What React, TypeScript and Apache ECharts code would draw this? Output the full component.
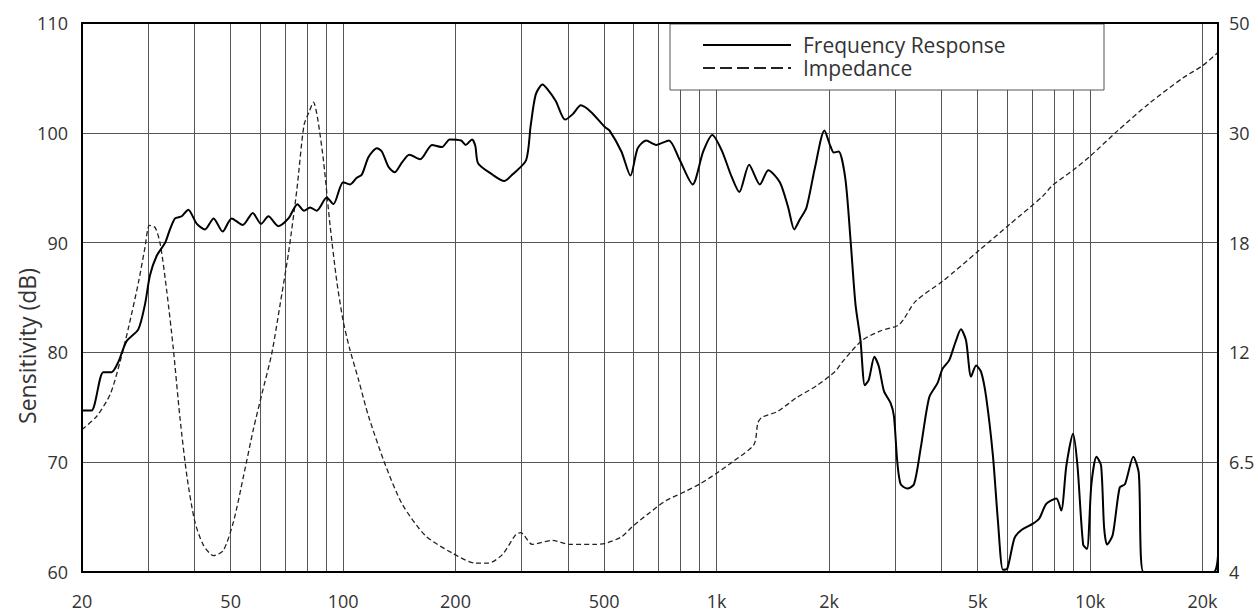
import React, { useEffect, useRef } from "react";
import * as echarts from "echarts";

// ---------- data ----------
const xLabelValues = [20, 50, 100, 200, 500, 1000, 2000, 5000, 10000, 20000];
const xGridValues = [
  20, 30, 40, 50, 60, 70, 80, 90, 100, 200, 300, 400, 500, 600, 700, 800, 900,
  1000, 2000, 3000, 4000, 5000, 6000, 7000, 8000, 9000, 10000, 20000,
];
const impedanceTicks = [4, 6.5, 12, 18, 30, 50];

const responseHz = [
  20, 21.2, 22.8, 24.0, 25.0, 26.3, 28.3, 29.5, 30.4, 31.7,
  33.4, 34.4, 35.5, 37.0, 38.5, 40.6, 42.7, 45.0, 47.6, 50.3,
  53.9, 57.3, 60.3, 63.1, 67.1, 71.4, 75.5, 78.6, 81.6, 85.0,
  90.4, 94.2, 100, 104.4, 108.8, 112.3, 117, 123.2, 127, 132.3,
  137.4, 143.8, 150.4, 161, 173, 184, 193, 207, 213, 221.5,
  226, 230, 251, 270, 284, 309, 318, 328, 342, 352,
  371, 393, 412, 433, 461, 503, 517, 556, 588, 615,
  648, 689, 745, 795, 863, 921, 974, 1032, 1097, 1150,
  1222, 1306, 1375, 1477, 1555, 1614, 1670, 1741, 1833, 1944,
  2016, 2059, 2123, 2212, 2283, 2354, 2428, 2494, 2555, 2646,
  2720, 2805, 2922, 2984, 3047, 3110, 3240, 3378, 3520, 3708,
  3903, 4025, 4197, 4357, 4511, 4653, 4800, 4953, 5109, 5270,
  5493, 5664, 5843, 6002, 6277, 6538, 7030, 7320, 7630, 8120,
  8370, 8640, 9000, 9250, 9580, 9810, 10080, 10400, 10700, 10900,
  11100, 11500, 12000, 12400, 13050, 13500, 13900, 21400, 22000,
];
const responseDb = [
  74.7, 74.7, 78.2, 78.2, 79.1, 81.0, 82.1, 84.4, 87.0, 88.8,
  90.0, 91.2, 92.2, 92.4, 93.0, 91.7, 91.2, 92.2, 91.0, 92.2,
  91.6, 92.7, 91.7, 92.4, 91.5, 92.2, 93.5, 92.9, 93.2, 92.9,
  94.1, 93.5, 95.5, 95.3, 95.9, 96.2, 97.8, 98.6, 98.3, 96.9,
  96.4, 97.3, 98.0, 97.6, 98.9, 98.7, 99.4, 99.3, 98.9, 99.4,
  98.8, 97.2, 96.2, 95.6, 96.2, 97.5, 100.7, 103.5, 104.4, 104.0,
  102.9, 101.2, 101.7, 102.5, 101.9, 100.5, 100.2, 98.3, 96.1, 98.6,
  99.3, 98.9, 99.3, 97.6, 95.3, 98.3, 99.8, 98.4, 96.0, 94.6,
  97.1, 95.3, 96.6, 95.5, 93.2, 91.2, 92.1, 93.2, 96.8, 100.2,
  98.8, 98.2, 98.3, 95.8, 90.3, 84.4, 81.1, 77.0, 77.5, 79.6,
  78.7, 76.5, 75.4, 74.2, 70.0, 68.0, 67.6, 68.0, 71.3, 75.9,
  77.2, 78.5, 79.3, 80.9, 82.1, 81.1, 77.8, 78.8, 78.2, 75.9,
  70.6, 64.7, 60.2, 60.3, 63.1, 63.8, 64.4, 64.9, 66.2, 66.7,
  65.6, 69.7, 72.6, 69.7, 62.5, 62.1, 68.0, 70.5, 69.7, 64.1,
  62.5, 63.4, 67.7, 68.0, 70.5, 69.0, 60, 60, 61.5,
];

const impedanceHz = [
  20, 21.9, 23.8, 25.3, 26.6, 28.3, 29.5, 30.3, 31.4, 32.4,
  33.7, 35.1, 36.6, 38.2, 40.1, 42.3, 45.0, 47.8, 50.9, 54.1,
  57.5, 60.6, 64.4, 67.8, 71.4, 75.2, 78.6, 81.3, 83.3, 85.4,
  88.6, 92.3, 96.2, 100, 104, 110, 117, 130, 144, 166,
  196, 226, 245, 267, 290, 299, 321, 364, 403, 476,
  503, 556, 597, 662, 731, 832, 901, 1000, 1110, 1259,
  1290, 1324, 1454, 1640, 1859, 2082, 2167, 2454, 2753, 3084,
  3413, 4025, 5052, 6092, 7454, 7930, 9000, 10000, 11800, 14400,
  17700, 20000, 22000,
];
const impedanceOhm = [
  7.8, 8.4, 9.5, 11.4, 13.1, 15.5, 17.7, 19.5, 19.3, 17.9,
  15.1, 12.2, 8.3, 6.1, 5.0, 4.5, 4.3, 4.4, 5.0, 6.1,
  7.8, 9.5, 11.9, 14.3, 17.3, 23.0, 31.1, 33.2, 34.6, 32.2,
  26.4, 19.5, 15.6, 13.5, 12.2, 10.3, 8.4, 6.4, 5.4, 4.7,
  4.35, 4.16, 4.16, 4.32, 4.72, 4.76, 4.52, 4.6, 4.52, 4.52,
  4.54, 4.67, 4.9, 5.2, 5.48, 5.73, 5.9, 6.19, 6.54, 7.17,
  8.1, 8.36, 8.62, 9.33, 9.98, 10.81, 11.36, 12.55, 13.0, 13.3,
  14.5, 15.6, 17.5, 19.6, 22.3, 23.5, 25.2, 26.9, 30.2, 34.4,
  38.7, 41.0, 43.6,
];

// ---------- layout / style ----------
const W = 1258;
const H = 612;
const GRID = { left: 82, top: 23, right: 40, bottom: 40 };
const FONT = "'Open Sans', 'Noto Sans', sans-serif";
const TEXT = "#333";

// impedance axis: piecewise-logarithmic between the printed ticks
function ohmToAxis(v: number): number {
  const n = impedanceTicks.length;
  for (let i = 0; i < n - 1; i++) {
    const a = impedanceTicks[i];
    const b = impedanceTicks[i + 1];
    if (v <= b || i === n - 2) {
      return i + Math.log(v / a) / Math.log(b / a);
    }
  }
  return 0;
}

function freqLabel(v: number): string {
  return v >= 1000 ? `${Math.round(v / 1000)}k` : `${Math.round(v)}`;
}

export default function App() {
  const ref = useRef<HTMLDivElement>(null);

  useEffect(() => {
    if (!ref.current) return;
    const chart = echarts.init(ref.current, undefined, { renderer: "svg" });
    const plotW = W - GRID.left - GRID.right;
    const plotH = H - GRID.top - GRID.bottom;

    chart.setOption({
      animation: false,
      backgroundColor: "#fff",
      textStyle: { fontFamily: FONT },
      grid: { ...GRID, containLabel: false },
      legend: {
        left: 702,
        top: 34,
        orient: "vertical",
        padding: 0,
        itemGap: 1,
        itemWidth: 88,
        itemHeight: 14,
        z: 6,
        itemStyle: { opacity: 0, borderWidth: 0 },
        textStyle: {
          fontFamily: FONT,
          fontSize: 21,
          color: TEXT,
          lineHeight: 22,
          padding: [0, 0, 0, 7],
        },
        data: [
          { name: "Frequency Response" },
          { name: "Impedance", lineStyle: { type: [12, 5] } },
        ],
      },
      xAxis: {
        type: "log",
        logBase: 10,
        min: 20,
        max: 22000,
        axisLine: { show: false },
        axisTick: { show: false, customValues: xGridValues },
        axisLabel: {
          customValues: xLabelValues,
          formatter: (v: number) => freqLabel(v),
          fontSize: 18,
          color: TEXT,
          margin: 20,
          fontFamily: FONT,
        },
        splitLine: { show: true, lineStyle: { color: "#555", width: 1 } },
        minorTick: { show: false },
        minorSplitLine: { show: false },
      },
      yAxis: [
        {
          type: "value",
          min: 60,
          max: 110,
          interval: 10,
          axisLine: { show: false },
          axisTick: { show: false },
          axisLabel: { fontSize: 18, color: TEXT, margin: 14, fontFamily: FONT },
          splitLine: { show: true, lineStyle: { color: "#555", width: 1 } },
        },
        {
          type: "value",
          position: "right",
          min: 0,
          max: impedanceTicks.length - 1,
          interval: 1,
          axisLine: { show: false },
          axisTick: { show: false },
          axisLabel: {
            fontSize: 18,
            color: TEXT,
            margin: 11,
            fontFamily: FONT,
            formatter: (v: number) => String(impedanceTicks[Math.round(v)]),
          },
          splitLine: { show: false },
        },
      ],
      graphic: [
        {
          type: "rect",
          z: 3,
          shape: { x: 670, y: 24, width: 434, height: 66 },
          style: { fill: "#fff", stroke: "#555", lineWidth: 1 },
        },
        {
          type: "rect",
          z: 10,
          silent: true,
          shape: { x: GRID.left, y: GRID.top, width: plotW, height: plotH },
          style: { fill: "none", stroke: "#000", lineWidth: 2 },
        },
        {
          type: "text",
          x: 27,
          y: 346,
          rotation: Math.PI / 2,
          style: {
            text: "Sensitivity (dB)",
            fontSize: 23,
            fontFamily: FONT,
            fill: TEXT,
            align: "center",
            verticalAlign: "middle",
          },
        },
      ],
      series: [
        {
          name: "Frequency Response",
          type: "line",
          xAxisIndex: 0,
          yAxisIndex: 0,
          symbol: "none",
          smooth: 0.25,
          z: 4,
          lineStyle: { color: "#000", width: 2 },
          itemStyle: { color: "#000" },
          data: responseHz.map((f, i) => [f, responseDb[i]]),
        },
        {
          name: "Impedance",
          type: "line",
          xAxisIndex: 0,
          yAxisIndex: 1,
          symbol: "none",
          smooth: 0.25,
          z: 2,
          lineStyle: { color: "#222", width: 1.3, type: [5, 3] },
          itemStyle: { color: "#222" },
          data: impedanceHz.map((f, i) => [f, ohmToAxis(impedanceOhm[i])]),
        },
      ],
    });

    return () => chart.dispose();
  }, []);

  return (
    <div
      ref={ref}
      style={{ position: "fixed", left: 0, top: 0, width: W, height: H }}
    />
  );
}
